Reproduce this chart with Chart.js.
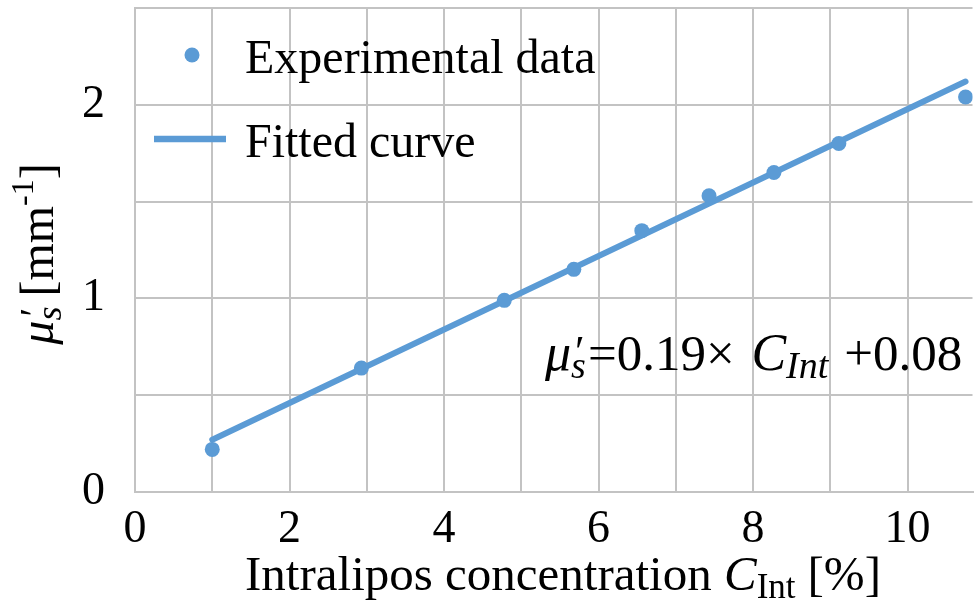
<!DOCTYPE html>
<html>
<head>
<meta charset="utf-8">
<script src="https://cdn.jsdelivr.net/npm/chart.js@4.4.1/dist/chart.umd.min.js"></script>
<style>
  html, body { margin: 0; padding: 0; background: #fff; }
  #wrap { width: 980px; height: 606px; }
</style>
</head>
<body>
<div id="wrap"><canvas id="chartMus"></canvas></div>
<script>
// concentration [%] and measured reduced scattering [mm-1]
const concData = [1.0, 2.93, 4.78, 5.68, 6.56, 7.43, 8.27, 9.11, 10.75];
const musData = [0.22, 0.64, 0.99, 1.15, 1.35, 1.53, 1.65, 1.80, 2.04];

// fitted line end points
const fitConc = [1.0, 10.75];
const fitMus = [0.27, 2.12];

const xTickLabels = [0, 2, 4, 6, 8, 10];
const yTickLabels = [0, 1, 2];

const legendLabels = ["Experimental data", "Fitted curve"];

const blue = "#5B9BD5";
const gridCol = "#c3c3c3";
const serif = "'Liberation Serif', 'Times New Roman', serif";

// draws a list of text pieces one after the other
function drawRich(ctx, parts, x, y, align) {
    let total = 0;
    parts.forEach(p => {
        ctx.font = (p.italic ? "italic " : "") + p.size + "px " + serif;
        p.w = p.noAdvance ? 0 : ctx.measureText(p.t).width + (p.gap || 0);
        total += p.w;
    });
    let cx = align === "center" ? x - total / 2 : (align === "right" ? x - total : x);
    ctx.textBaseline = "alphabetic";
    ctx.textAlign = "left";
    parts.forEach(p => {
        ctx.font = (p.italic ? "italic " : "") + p.size + "px " + serif;
        ctx.fillText(p.t, cx + (p.dx || 0), y + (p.dy || 0));
        cx += p.w;
    });
}

// no extra padding around the plot from hidden labels
const noPad = s => { s.paddingTop = 0; s.paddingBottom = 0; s.paddingLeft = 0; s.paddingRight = 0; };

const extras = {
    id: "extras",
    afterDraw(chart) {
        const ctx = chart.ctx;
        const area = chart.chartArea;
        ctx.save();

        // legend, no box
        ctx.fillStyle = blue;
        ctx.beginPath();
        ctx.arc(area.left + 57, 55, 7.5, 0, Math.PI * 2);
        ctx.fill();
        ctx.strokeStyle = blue;
        ctx.lineWidth = 6.5;
        ctx.beginPath();
        ctx.moveTo(area.left + 19, 139);
        ctx.lineTo(area.left + 91, 139);
        ctx.stroke();
        ctx.fillStyle = "#000";
        ctx.font = "48px " + serif;
        ctx.textBaseline = "alphabetic";
        ctx.fillText(legendLabels[0], area.left + 110, 73);
        ctx.fillText(legendLabels[1], area.left + 110, 157);

        // fit equation
        drawRich(ctx, [
            { t: "\u03bc", size: 52, italic: true },
            { t: "\u2032", size: 44, noAdvance: true, dx: 4, dy: -4 },
            { t: "s", size: 38, italic: true, dy: 8, gap: 2 },
            { t: "=0.19\u00d7 ", size: 51, gap: 4 },
            { t: "C", size: 52, italic: true },
            { t: "Int", size: 38, italic: true, dy: 8, gap: 16 },
            { t: "+0.08", size: 51 }
        ], 545, 370, "left");

        // x axis title
        drawRich(ctx, [
            { t: "Intralipos concentration ", size: 49 },
            { t: "C", size: 49, italic: true },
            { t: "Int", size: 35, dy: 8, gap: 12 },
            { t: "[%]", size: 49 }
        ], 563, 590, "center");

        // y axis title, rotated
        ctx.translate(53, 254);
        ctx.rotate(-Math.PI / 2);
        drawRich(ctx, [
            { t: "\u03bc", size: 48, italic: true },
            { t: "\u2032", size: 40, noAdvance: true, dx: 4, dy: -6 },
            { t: "s", size: 36, italic: true, dy: 8, gap: 10 },
            { t: "[mm", size: 48 },
            { t: "-1", size: 32, dy: -20 },
            { t: "]", size: 48 }
        ], 0, 0, "center");
        ctx.restore();
    }
};

const ctx = document.getElementById("chartMus");

new Chart(ctx, {
    type: "scatter",
    data: {
        datasets: [{
            label: legendLabels[0],
            data: concData.map((c, i) => ({ x: c, y: musData[i] })),
            pointRadius: 7.5,
            pointHoverRadius: 7.5,
            pointBackgroundColor: blue,
            pointBorderWidth: 0,
            showLine: false
        }, {
            label: legendLabels[1],
            data: fitConc.map((c, i) => ({ x: c, y: fitMus[i] })),
            showLine: true,
            borderColor: blue,
            borderWidth: 6,
            pointRadius: 0,
            borderCapStyle: "round"
        }]
    },
    options: {
        responsive: true,
        maintainAspectRatio: false,
        animation: false,
        layout: { padding: { top: 8, right: 0, left: 0, bottom: 0 } },
        plugins: {
            legend: { display: false },
            tooltip: { enabled: false }
        },
        scales: {
            x: {
                type: "linear",
                min: 0,
                max: 10.84,
                afterFit: s => { s.height = 114; noPad(s); },
                ticks: {
                    stepSize: 1,
                    includeBounds: false,
                    color: "#000",
                    padding: 10,
                    maxRotation: 0,
                    autoSkip: false,
                    font: { family: serif, size: 46 },
                    callback: v => xTickLabels.includes(v) ? String(v) : ""
                },
                grid: { color: gridCol, lineWidth: 2, drawTicks: false },
                border: { color: gridCol, width: 2 }
            },
            y: {
                min: 0,
                max: 2.5,
                afterFit: s => { s.width = 135; noPad(s); },
                ticks: {
                    stepSize: 0.5,
                    color: "#000",
                    padding: 30,
                    autoSkip: false,
                    font: { family: serif, size: 46 },
                    callback: v => yTickLabels.includes(v) ? String(v) : ""
                },
                grid: { color: gridCol, lineWidth: 2, drawTicks: false },
                border: { color: gridCol, width: 2 }
            }
        }
    },
    plugins: [extras]
});
</script>
</body>
</html>
